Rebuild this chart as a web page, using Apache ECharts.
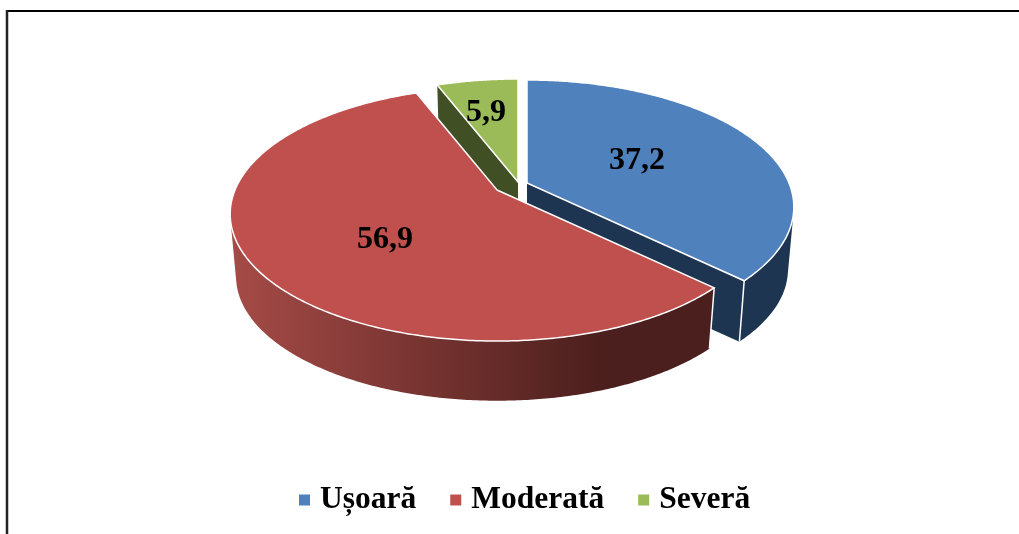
<!DOCTYPE html>
<html>
<head>
<meta charset="utf-8">
<style>html,body{margin:0;padding:0;background:#fff}#c{width:1019px;height:534px}</style>
<script src="https://cdn.jsdelivr.net/npm/echarts@6/dist/echarts.min.js"></script>
</head>
<body>
<div id="c"></div>
<script>
// Data
var categories = ['Ușoară', 'Moderată', 'Severă'];
var values = [37.2, 56.9, 5.9];

// Styles and layout of the 3D pie projection
var topColors = ['#4F81BD', '#C0504D', '#9BBB59'];
var wallColors = ['#1E3552', null, '#414F24'];
var apex = [[527, 183], [497, 190], [518, 182]];
var labelShift = [[110, -22], [-112, 50], [-32, -69]];
var seriesZ = [2, 3, 1];
var A = 262, B = 122.5, K = 0.189, DEPTH = 63, SHRINK = 0.978;
var FONT = '"Liberation Serif","Times New Roman",serif';

var total = values.reduce(function (a, b) { return a + b; }, 0);
function startAngle(i) {
  var s = 0;
  for (var j = 0; j < i; j++) s += values[j];
  return s / total * 2 * Math.PI;
}
function project(i, t) {
  var d = 1 + K * Math.cos(t);
  return [apex[i][0] + A * Math.sin(t) / d, apex[i][1] - B * Math.cos(t) / d];
}
function lower(i, p) {
  return [apex[i][0] + (p[0] - apex[i][0]) * SHRINK,
          apex[i][1] + (p[1] - apex[i][1]) * SHRINK + DEPTH];
}
function arc(i, a0, a1) {
  var n = Math.max(8, Math.ceil((a1 - a0) / 0.01)), pts = [];
  for (var k = 0; k <= n; k++) pts.push(project(i, a0 + (a1 - a0) * k / n));
  return pts;
}
// the part of the rim whose wall faces the viewer
function frontRim(i, rim) {
  var out = [];
  for (var k = 0; k < rim.length - 1; k++) {
    var p = rim[k], q = rim[k + 1], l = lower(i, p);
    var cross = (q[0] - p[0]) * (l[1] - p[1]) - (q[1] - p[1]) * (l[0] - p[0]);
    if (cross < 0) {
      if (!out.length) out.push(p);
      out.push(q);
    }
  }
  return out;
}
function renderSlice(i) {
  return function () {
    var a0 = startAngle(i), a1 = startAngle(i + 1);
    var rim = arc(i, a0, a1);
    var c = apex[i];
    var cLow = lower(i, c);
    var wallFill = wallColors[i] || new echarts.graphic.LinearGradient(230, 0, 600, 0, [
      { offset: 0, color: '#A64B47' },
      { offset: 1, color: '#4B1F1D' }
    ], true);
    var first = rim[0], last = rim[rim.length - 1];
    var children = [];
    // flat cut walls
    children.push({ type: 'polygon', silent: true,
      shape: { points: [c, first, lower(i, first), cLow] }, style: { fill: wallFill } });
    children.push({ type: 'polygon', silent: true,
      shape: { points: [c, last, lower(i, last), cLow] }, style: { fill: wallFill } });
    // outer curved wall
    var front = frontRim(i, rim);
    if (front.length > 1) {
      children.push({ type: 'polygon', silent: true,
        shape: { points: front.concat(front.slice().reverse().map(function (p) { return lower(i, p); })) },
        style: { fill: wallFill } });
    }
    // white seam at the slice corner that faces the viewer
    var seamPoint = i === 0 ? last : first;
    if (i < 2) {
      children.push({ type: 'polyline', silent: true,
        shape: { points: [seamPoint, lower(i, seamPoint)] },
        style: { stroke: '#fff', lineWidth: 1.5, fill: null } });
    }
    // top face
    children.push({ type: 'polygon', silent: true,
      shape: { points: [c].concat(rim) },
      style: { fill: topColors[i], stroke: '#fff', lineWidth: 1.5, lineJoin: 'miter' } });
    // value label
    children.push({ type: 'text', silent: true,
      style: {
        x: c[0] + labelShift[i][0], y: c[1] + labelShift[i][1],
        text: String(values[i]).replace('.', ','),
        font: 'bold 32px ' + FONT, fill: '#000', align: 'center', verticalAlign: 'middle'
      } });
    return { type: 'group', children: children };
  };
}

var series = categories.map(function (name, i) {
  return {
    type: 'custom', name: name, coordinateSystem: 'none', z: seriesZ[i],
    itemStyle: { color: topColors[i] },
    data: [{ name: name, value: values[i] }],
    renderItem: renderSlice(i), silent: true, animation: false
  };
});

var chart = echarts.init(document.getElementById('c'), null, { renderer: 'canvas' });
chart.setOption({
  animation: false,
  backgroundColor: '#fff',
  legend: {
    data: categories, left: 299, top: 484, orient: 'horizontal',
    icon: 'rect', itemWidth: 11, itemHeight: 11, itemGap: 34, padding: 0,
    selectedMode: false,
    textStyle: { fontFamily: FONT, fontWeight: 'bold', fontSize: 31.5, color: '#000', padding: [0, 0, 0, 5] }
  },
  graphic: [
    { type: 'line', silent: true, shape: { x1: 6, y1: 11, x2: 1019, y2: 11 }, style: { stroke: '#000', lineWidth: 2 } },
    { type: 'line', silent: true, shape: { x1: 7, y1: 10, x2: 7, y2: 534 }, style: { stroke: '#222', lineWidth: 2.5 } }
  ],
  series: series
});
</script>
</body>
</html>
